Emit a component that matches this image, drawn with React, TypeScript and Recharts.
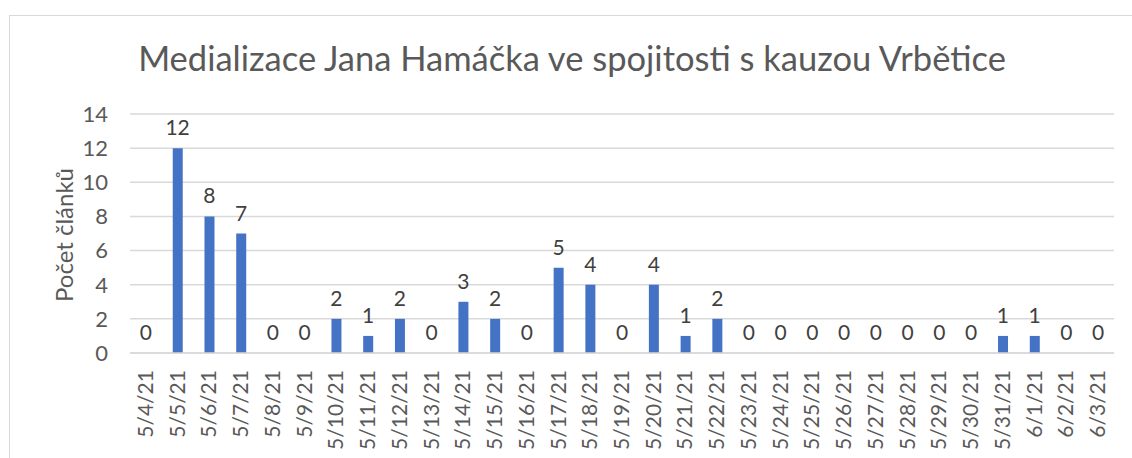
import { ComposedChart, Bar, Line, XAxis, YAxis, CartesianGrid, LabelList } from 'recharts'

const dates = [
  '5/4/21', '5/5/21', '5/6/21', '5/7/21', '5/8/21', '5/9/21', '5/10/21', '5/11/21',
  '5/12/21', '5/13/21', '5/14/21', '5/15/21', '5/16/21', '5/17/21', '5/18/21', '5/19/21',
  '5/20/21', '5/21/21', '5/22/21', '5/23/21', '5/24/21', '5/25/21', '5/26/21', '5/27/21',
  '5/28/21', '5/29/21', '5/30/21', '5/31/21', '6/1/21', '6/2/21', '6/3/21',
]
const counts = [
  0, 12, 8, 7, 0, 0, 2, 1,
  2, 0, 3, 2, 0, 5, 4, 0,
  4, 1, 2, 0, 0, 0, 0, 0,
  0, 0, 0, 1, 1, 0, 0,
]
const yTicks = [0, 2, 4, 6, 8, 10, 12, 14]

const data = dates.map((d, i) => ({ date: d, count: counts[i] }))

const FONT = 'Lato, "Noto Sans", sans-serif'

function DateTick({ x, y, payload }: any) {
  return (
    <text
      x={x}
      y={y}
      transform={`rotate(-90, ${x}, ${y})`}
      dx={-9}
      dy={7}
      textAnchor="end"
      fill="#595959"
      fontSize={21}
      fontFamily={FONT}
    >
      {payload.value}
    </text>
  )
}

export default function App() {
  return (
    <div style={{ position: 'absolute', left: 0, top: 0, width: 1132, height: 458, background: '#fff', overflow: 'hidden' }}>
      <div style={{ position: 'absolute', left: 9, top: 15, width: 1140, height: 460, border: '1px solid #d9d9d9' }} />
      <div
        style={{
          position: 'absolute', left: 0, width: 1144, top: 36, textAlign: 'center',
          fontFamily: FONT, fontSize: 34.5, color: '#595959', lineHeight: '44px',
        }}
      >
        Medializace Jana Hamáčka ve spojitosti s kauzou Vrbětice
      </div>
      <div
        style={{
          position: 'absolute', left: 63, top: 235, transform: 'translate(-50%, -50%) rotate(-90deg)',
          fontFamily: FONT, fontSize: 24, color: '#595959', whiteSpace: 'nowrap',
        }}
      >
        Počet článků
      </div>
      <div style={{ position: 'absolute', left: 0, top: 0 }}>
        <ComposedChart width={1132} height={458} data={data} margin={{ top: 114, right: 18, bottom: 0, left: 90 }}>
          <CartesianGrid vertical={false} stroke="#d9d9d9" strokeWidth={1.5} />
          <XAxis
            dataKey="date"
            interval={0}
            height={105}
            tick={<DateTick />}
            tickLine={false}
            axisLine={{ stroke: '#d9d9d9', strokeWidth: 1.5 }}
          />
          <YAxis
            width={40}
            domain={[0, 14]}
            ticks={yTicks}
            interval={0}
            tickLine={false}
            axisLine={false}
            tick={{ fill: '#595959', fontSize: 22, fontFamily: FONT }}
            tickMargin={16}
          />
          <Bar dataKey="count" fill="#4472c4" barSize={10} isAnimationActive={false} />
          <Line
            dataKey="count"
            stroke="none"
            dot={false}
            activeDot={false}
            isAnimationActive={false}
          >
            <LabelList
              dataKey="count"
              position="top"
              offset={13}
              fill="#404040"
              fontSize={21}
              fontFamily={FONT}
            />
          </Line>
        </ComposedChart>
      </div>
    </div>
  )
}
